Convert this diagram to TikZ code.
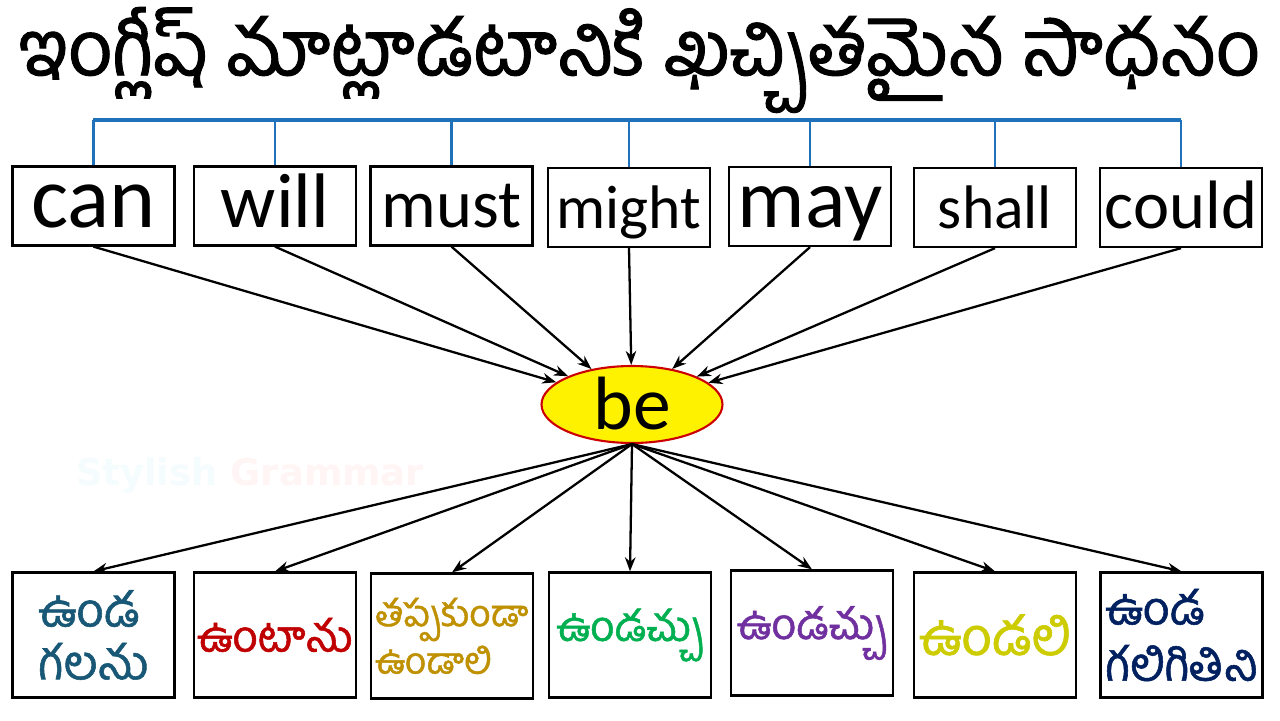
\documentclass[tikz,border=0pt]{standalone}
\usepackage{fontspec}
\setmainfont{Carlito}
\newfontfamily\telugufont[Script=Telugu,FakeBold=1.2]{Hind Guntur}
\newfontfamily\markfont{DejaVu Sans}
\usetikzlibrary{shapes.geometric,arrows.meta}
\definecolor{bracketBlue}{RGB}{31,113,186}
\definecolor{tealText}{RGB}{24,88,118}
\definecolor{redText}{RGB}{192,0,0}
\definecolor{goldText}{RGB}{191,144,0}
\definecolor{greenText}{RGB}{0,176,80}
\definecolor{purpleText}{RGB}{112,48,160}
\definecolor{oliveText}{RGB}{204,204,0}
\definecolor{navyText}{RGB}{0,32,96}
\newcommand{\sizedFont}[2]{\fontsize{#1}{#2}\selectfont}
%% A modal verb in a box, hung from the bracket.
\newcommand{\modalBox}[5]{%%
  \node[modalStyle,font=\sizedFont{#4}{#4}] (#1) at (#2,#3) {#5};
  \draw[dropStyle] (#1.north |- bracketLeft) -- (#1.north);
}
%% A meaning in Telugu.
\newcommand{\meaningBox}[6]{%%
  \node[meaningStyle,text=#4,font=\telugufont#5] (#1) at (#2,#3) {#6};
}

\begin{document}
\begin{tikzpicture}[x=0.02cm,y=-0.02cm,%%
  modalStyle/.style={draw,line width=1.3pt,minimum width=3.24cm,minimum height=1.58cm,inner sep=0pt,text height=24pt,text depth=0pt},%%
  meaningStyle/.style={draw,line width=1.3pt,minimum width=3.24cm,minimum height=2.5cm,inner sep=0pt,align=left},%%
  beStyle/.style={ellipse,draw=red!80!black,line width=1.2pt,fill=yellow,minimum width=3.62cm,minimum height=1.54cm,inner sep=0pt,text height=29pt,text depth=0pt},%%
  linkStyle/.style={line width=1.3pt,-{Stealth[length=8pt,width=6pt]}},%%
  bracketStyle/.style={draw=bracketBlue,line width=2.3pt},%%
  dropStyle/.style={draw=bracketBlue,line width=1.2pt}%%
]
%%
\useasboundingbox[fill=white] (0,0) rectangle (1280,720);
%%
\pgfmathsetmacro{\ytop}{206}
\pgfmathsetmacro{\ybottom}{635}
%%
%% The title.
\node[font=\telugufont\sizedFont{44}{44}] (title) at (640,60) {ఇంగ్లీష్ మాట్లాడటానికి ఖచ్చితమైన సాధనం};
%% The faint mark.
\node[font=\markfont\bfseries\sizedFont{21}{21}] (watermark) at (250,475) {\textcolor{cyan!4}{Stylish} \textcolor{red!4}{Grammar}};
%%
%% The bracket.
\coordinate (bracketLeft) at (93,120);
\coordinate (bracketRight) at (1181,120);
\draw[bracketStyle] (bracketLeft) -- (bracketRight);
%% The modal verbs.
\modalBox{can}{93.5}{\ytop}{50}{can}
\modalBox{will}{275}{\ytop}{44}{will}
\modalBox{must}{451.5}{\ytop}{39}{must}
\modalBox{might}{629}{\ytop+1.5}{35}{might}
\modalBox{may}{810}{\ytop+0.5}{48}{may}
\modalBox{shall}{995}{\ytop+1.5}{35}{shall}
\modalBox{could}{1181}{\ytop+1.5}{39}{could}
%%
%% The ellipse.
\node[beStyle,font=\sizedFont{43}{43}] (be) at (632,404.5) {be};
%%
%% The meanings.
\meaningBox{canTe}{93.5}{\ybottom}{tealText}{\sizedFont{27}{30}}{ఉండ\\గలను}
\meaningBox{willTe}{275}{\ybottom}{redText}{\sizedFont{25}{30}}{ఉంటాను}
\meaningBox{mustTe}{452}{\ybottom+1}{goldText}{\sizedFont{21}{27}}{తప్పకుండా\\ఉండాలి}
\meaningBox{mightTe}{630}{\ybottom}{greenText}{\sizedFont{24}{30}}{ఉండచ్చు}
\meaningBox{mayTe}{812}{\ybottom-2}{purpleText}{\sizedFont{24.5}{30}}{ఉండచ్చు}
\meaningBox{shallTe}{995}{\ybottom}{oliveText}{\sizedFont{30}{30}}{ఉండలి}
\meaningBox{couldTe}{1181.5}{\ybottom}{navyText}{\sizedFont{26.5}{32}}{ఉండ\\గలిగితిని}
%%
%% Arrows into be.
\foreach \modal in {can,will,must,might,may,shall,could}
  \draw[linkStyle] (\modal.south) -- (be);
%% Arrows out of be.
\foreach \meaning in {canTe,willTe,mustTe,mightTe,mayTe,shallTe,couldTe}
  \draw[linkStyle] (be.south) -- (\meaning.north);
\end{tikzpicture}
\end{document}
